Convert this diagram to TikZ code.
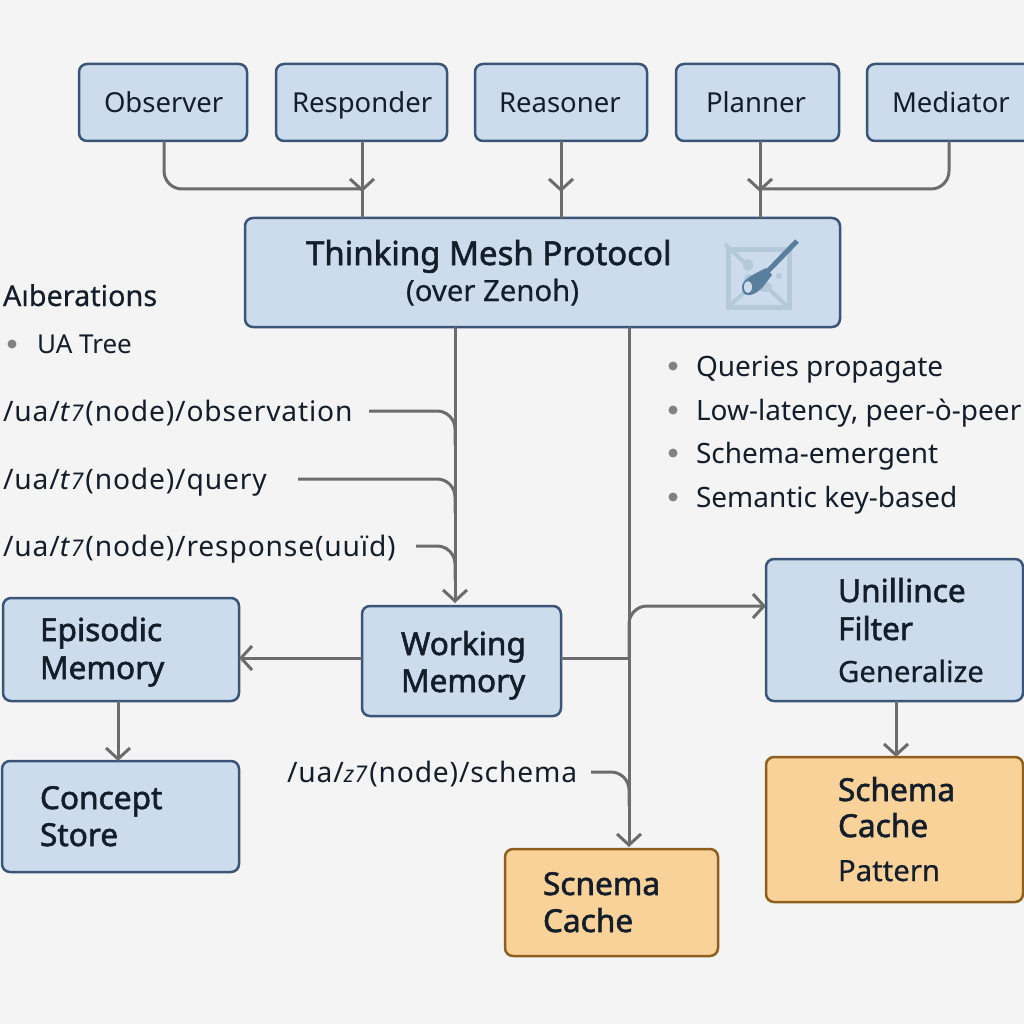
\documentclass[tikz,border=0pt]{standalone}
\usepackage{fontspec}
\setmainfont{Noto Sans}
\newfontfamily\labelfont[LetterSpace=3]{Noto Sans}
\newfontfamily\headfont[FakeBold=1.8]{Noto Sans}
\newfontfamily\subfont[FakeBold=0.5]{Noto Sans}
\usetikzlibrary{arrows.meta,calc}
\definecolor{pagebg}{HTML}{F4F4F4}
\definecolor{bluefill}{HTML}{CCDCEC}
\definecolor{bluerule}{HTML}{3A5578}
\definecolor{orangefill}{HTML}{F9D299}
\definecolor{orangerule}{HTML}{8F5F20}
\definecolor{wirecol}{HTML}{6C6C6C}
\definecolor{inkcol}{HTML}{141E2B}
\definecolor{iconpale}{HTML}{B4CADB}
\definecolor{icondark}{HTML}{5A7F9C}
\tikzset{
  x=1pt,y=-1pt,
  boxbase/.style={draw,line width=2.5pt,rounded corners=8pt,inner sep=0pt,outer sep=0pt},
  bluebox/.style={boxbase,fill=bluefill,draw=bluerule},
  orangebox/.style={boxbase,fill=orangefill,draw=orangerule},
  wire/.style={draw=wirecol,line width=3pt,rounded corners=18pt},
  tipped/.style={wire,-{Straight Barb[length=11pt,width=24pt,line width=3pt]}},
  txt/.style={anchor=base west,inner sep=0pt,outer sep=0pt,text=inkcol},
  agent/.style={txt,font=\fontsize{27.5}{27.5}\selectfont},
  head/.style={txt,font=\fontsize{31.6}{31.6}\headfont},
  sub/.style={txt,font=\fontsize{29.3}{29.3}\subfont},
  path/.style={txt,font=\fontsize{28.2}{28.2}\labelfont},
  note/.style={txt,font=\fontsize{28}{28}\selectfont},
  dot/.style={circle,fill=wirecol!85,minimum size=9pt,inner sep=0pt,outer sep=0pt},
}
\newcommand{\tseven}{\textit{t}{\fontsize{23}{23}\selectfont\textit{7}}\hspace{1pt}}
\begin{document}
\begin{tikzpicture}
\useasboundingbox (0,0) rectangle (1024,1024);
\clip (0,0) rectangle (1024,1024);
\fill[pagebg] (0,0) rectangle (1024,1024);

% agent boxes
\node[bluebox,minimum width=168pt,minimum height=77pt] (observer) at (163,102.5) {};
\node[bluebox,minimum width=171pt,minimum height=77pt] (responder) at (361.5,102.5) {};
\node[bluebox,minimum width=172pt,minimum height=77pt] (reasoner) at (561,102.5) {};
\node[bluebox,minimum width=163pt,minimum height=77pt] (planner) at (757.5,102.5) {};
\node[bluebox,minimum width=166pt,minimum height=77pt] (mediator) at (950,102.5) {};
\node[bluebox,minimum width=595pt,minimum height=109pt] (mesh) at (542.5,272.5) {};
\node[bluebox,minimum width=236pt,minimum height=103pt] (episodic) at (121,649.5) {};
\node[bluebox,minimum width=199pt,minimum height=110pt] (working) at (461.5,661) {};
\node[bluebox,minimum width=237pt,minimum height=111pt] (concept) at (120.5,816.5) {};
\node[bluebox,minimum width=257pt,minimum height=142pt] (filter) at (894.5,630) {};
\node[orangebox,minimum width=257pt,minimum height=145pt] (cacheR) at (894.5,829.5) {};
\node[orangebox,minimum width=213pt,minimum height=107pt] (cacheM) at (611.5,902.5) {};

% free ends
\coordinate (obsL) at (369,411);
\coordinate (qryL) at (298,479);
\coordinate (rspL) at (416,546);
\coordinate (schL) at (591,772);
\coordinate (wmR) at (628,658);
\coordinate (brS) at (629,660);

% top connectors
\draw[wire] (observer.south -| 164,0) -- (164,189) -- (362,189);
\draw[wire] (responder.south -| 362,0) -- (362,218);
\draw[tipped] (362,141) -- (362,192);
\draw[wire] (reasoner.south -| 561,0) -- (561,218);
\draw[tipped] (561,141) -- (561,192);
\draw[wire] (planner.south -| 760,0) -- (760,218);
\draw[tipped] (760,141) -- (760,192);
\draw[wire] (mediator.south -| 949,0) -- (949,189) -- (760,189);

% mesh downward
\draw[tipped] (mesh.south -| 455,0) -- (455,603);
\draw[tipped] (mesh.south -| 629,0) -- (629,847);
\draw[wire] (obsL) -- (455,411) -- (455,445);
\draw[wire] (qryL) -- (455,479) -- (455,513);
\draw[wire] (rspL) -- (455,546) -- (455,580);
\draw[wire] (schL) -- (629,772) -- (629,806);
\draw[wire] (working.east |- wmR) -- (wmR);
\draw[tipped] (brS) -- (629,606) -- (filter.west |- 0,606);
\draw[tipped] (working.west |- 0,658) -- (episodic.east |- 0,658);
\draw[tipped] (episodic.south -| 118,0) -- (concept.north -| 118,0);
\draw[tipped] (filter.south -| 896,0) -- (cacheR.north -| 896,0);

% icon
\begin{scope}
\draw[iconpale,line width=5pt] (728,249) rectangle (789,307);
\draw[iconpale,line width=4pt] (725,244) -- (750,268);
\draw[iconpale,line width=4pt] (790,309) -- (770,290);
\draw[iconpale,line width=4pt] (728,307) -- (745,292);
\fill[iconpale] (748,265) ellipse (5pt and 6pt) (749,279) ellipse (5pt and 5pt) (765,287) ellipse (7pt and 5pt) (779,276) circle (3pt);
\draw[icondark,line width=5pt] (797,241) -- (767,272);
\fill[icondark] (766,268) -- (772,275) -- (762,288) .. controls (752,298) and (742,297) .. (742,288) .. controls (741,280) and (752,275) .. (766,268) -- cycle;
\fill[bluefill] (748,287) ellipse (4pt and 6pt);
\end{scope}

% box labels
\node[agent] (tObserver) at (104,113) {Observer};
\node[agent] (tResponder) at (292,113) {Responder};
\node[agent] (tReasoner) at (499,113) {Reasoner};
\node[agent] (tPlanner) at (706,113) {Planner};
\node[agent] (tMediator) at (892,113) {Mediator};
\node[head,font=\fontsize{33}{33}\headfont] (tMesh) at (306,265) {Thinking Mesh Protocol};
\node[sub] (tZenoh) at (406,301) {(over Zenoh)};
\node[head] (tEp1) at (40,641) {Episodic};
\node[head] (tEp2) at (40,679) {Memory};
\node[head] (tWk1) at (401,655) {Working};
\node[head] (tWk2) at (401,692) {Memory};
\node[head] (tCo1) at (40,809) {Concept};
\node[head] (tCo2) at (40,846) {Store};
\node[head] (tFi1) at (838,602) {Unillince};
\node[head] (tFi2) at (838,640) {Filter};
\node[sub] (tFi3) at (838,682) {Generalize};
\node[head] (tCr1) at (838,801) {Schema};
\node[head] (tCr2) at (838,837) {Cache};
\node[sub] (tCr3) at (838,881) {Pattern};
\node[head] (tCm1) at (543,895) {Scnema};
\node[head] (tCm2) at (543,932) {Cache};

% left notes
\node[txt,font=\fontsize{28.8}{28.8}\subfont] (tAib) at (3,306) {Aıberations};
\node[dot] (dUa) at (12,344) {};
\node[txt,font=\fontsize{26}{26}\selectfont] (tUa) at (37,353) {UA Tree};
\node[path] (pObs) at (3,421) {/ua/\tseven(node)/observation};
\node[path] (pQry) at (3,489) {/ua/\tseven(node)/query};
\node[path] (pRsp) at (3,556) {/ua/\tseven(node)/response(uuïd)};
\node[path] (pSch) at (287,782) {/ua/{\fontsize{23}{23}\selectfont\textit{z7}}\hspace{1pt}(node)/schema};

% right notes
\node[dot] (d1) at (673,366) {};
\node[dot] (d2) at (673,410) {};
\node[dot] (d3) at (673,453) {};
\node[dot] (d4) at (673,497) {};
\node[note] (n1) at (696,376) {Queries propagate};
\node[note] (n2) at (696,420) {Low-latency, peer-ò-peer};
\node[note] (n3) at (696,463) {Schema-emergent};
\node[note] (n4) at (696,507) {Semantic key-based};
\end{tikzpicture}
\end{document}
